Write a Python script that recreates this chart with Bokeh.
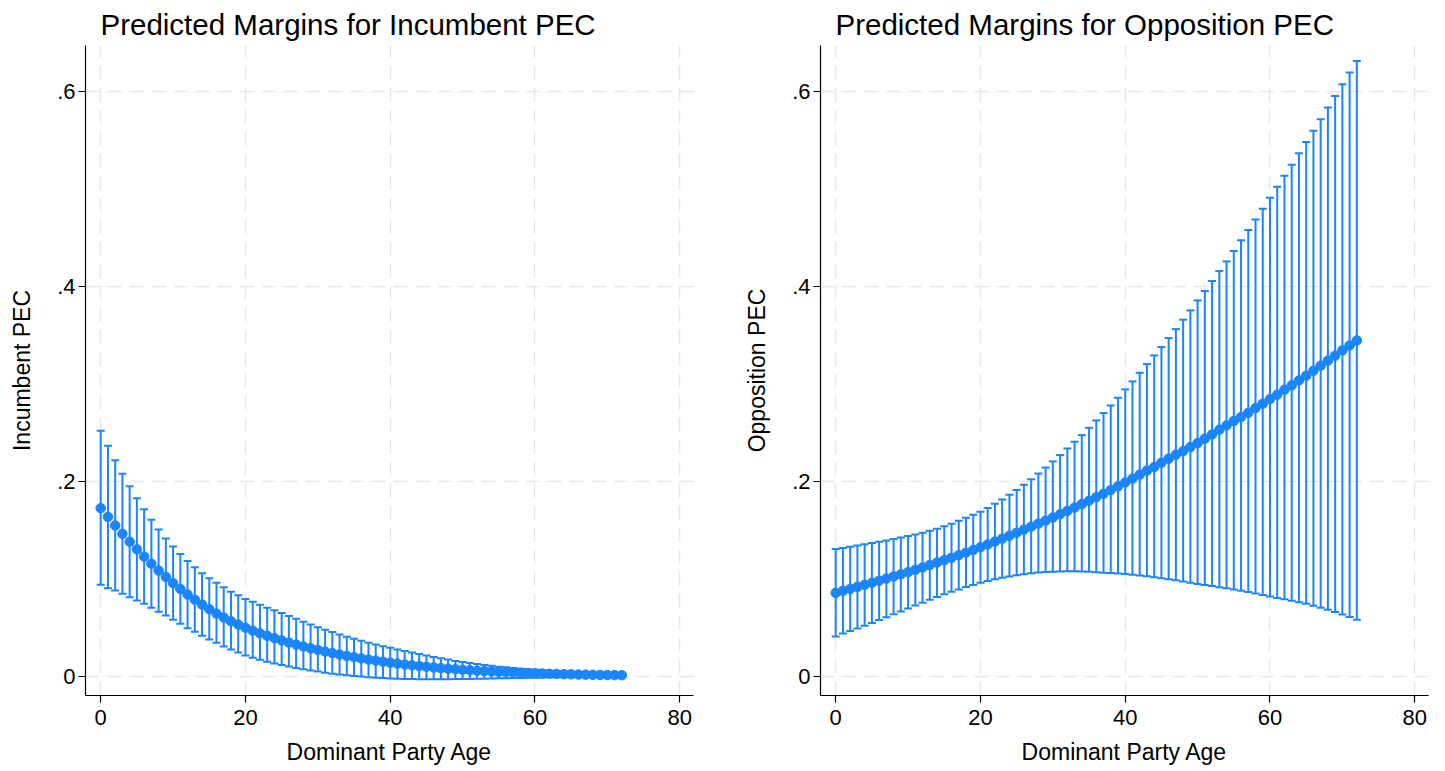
from bokeh.plotting import figure
from bokeh.models import ColumnDataSource, FixedTicker
from bokeh.layouts import row
from bokeh.embed import file_html
from bokeh.resources import INLINE

# ---------------- data ----------------
age = [0, 1, 2, 3, 4, 5, 6, 7, 8, 9, 10, 11, 12, 13, 14, 15, 16, 17, 18, 19,
       20, 21, 22, 23, 24, 25, 26, 27, 28, 29, 30, 31, 32, 33, 34, 35, 36, 37, 38, 39,
       40, 41, 42, 43, 44, 45, 46, 47, 48, 49, 50, 51, 52, 53, 54, 55, 56, 57, 58, 59,
       60, 61, 62, 63, 64, 65, 66, 67, 68, 69, 70, 71, 72]

inc_margin = [0.1725, 0.1636, 0.1548, 0.1463, 0.1382, 0.1304, 0.1229, 0.1156, 0.1086, 0.1021,
              0.0957, 0.0897, 0.0840, 0.0787, 0.0737, 0.0690, 0.0645, 0.0604, 0.0566, 0.0532,
              0.0500, 0.0470, 0.0443, 0.0417, 0.0393, 0.0370, 0.0348, 0.0327, 0.0308, 0.0289,
              0.0272, 0.0255, 0.0240, 0.0225, 0.0211, 0.0198, 0.0185, 0.0173, 0.0162, 0.0151,
              0.0141, 0.0132, 0.0123, 0.0115, 0.0107, 0.0100, 0.0093, 0.0086, 0.0080, 0.0074,
              0.0069, 0.0064, 0.0059, 0.0055, 0.0051, 0.0047, 0.0044, 0.0041, 0.0038, 0.0035,
              0.0032, 0.0030, 0.0028, 0.0026, 0.0024, 0.0022, 0.0020, 0.0019, 0.0017, 0.0016,
              0.0015, 0.0014, 0.0013]
inc_lower = [0.0940, 0.0906, 0.0882, 0.0848, 0.0813, 0.0780, 0.0745, 0.0704, 0.0663, 0.0626,
             0.0581, 0.0540, 0.0495, 0.0458, 0.0417, 0.0379, 0.0345, 0.0308, 0.0277, 0.0246,
             0.0214, 0.0192, 0.0171, 0.0152, 0.0134, 0.0118, 0.0102, 0.0088, 0.0074, 0.0062,
             0.0050, 0.0039, 0.0029, 0.0020, 0.0012, 0.0005, -0.0001, -0.0007, -0.0012, -0.0016,
             -0.0020, -0.0023, -0.0025, -0.0027, -0.0028, -0.0029, -0.0029, -0.0029, -0.0028, -0.0027,
             -0.0026, -0.0025, -0.0024, -0.0022, -0.0021, -0.0019, -0.0018, -0.0016, -0.0015, -0.0013,
             -0.0012, -0.0011, -0.0009, -0.0008, -0.0007, -0.0006, -0.0005, -0.0004, -0.0003, -0.0002,
             -0.0001, -0.0001, 0.0000]
inc_upper = [0.2520, 0.2365, 0.2218, 0.2080, 0.1950, 0.1828, 0.1714, 0.1607, 0.1508, 0.1416,
             0.1332, 0.1255, 0.1184, 0.1119, 0.1059, 0.1008, 0.0960, 0.0914, 0.0870, 0.0832,
             0.0795, 0.0766, 0.0736, 0.0706, 0.0678, 0.0650, 0.0620, 0.0591, 0.0562, 0.0534,
             0.0506, 0.0480, 0.0455, 0.0431, 0.0408, 0.0386, 0.0366, 0.0347, 0.0328, 0.0311,
             0.0294, 0.0277, 0.0261, 0.0245, 0.0230, 0.0215, 0.0200, 0.0186, 0.0173, 0.0160,
             0.0148, 0.0137, 0.0127, 0.0118, 0.0109, 0.0101, 0.0094, 0.0087, 0.0080, 0.0074,
             0.0069, 0.0064, 0.0059, 0.0055, 0.0051, 0.0047, 0.0044, 0.0040, 0.0037, 0.0035,
             0.0032, 0.0030, 0.0028]

opp_margin = [0.0858, 0.0878, 0.0898, 0.0919, 0.0940, 0.0961, 0.0982, 0.1004, 0.1026, 0.1048,
              0.1070, 0.1094, 0.1118, 0.1143, 0.1168, 0.1193, 0.1218, 0.1244, 0.1270, 0.1297,
              0.1325, 0.1354, 0.1383, 0.1413, 0.1443, 0.1474, 0.1505, 0.1536, 0.1567, 0.1598,
              0.1630, 0.1664, 0.1698, 0.1732, 0.1767, 0.1802, 0.1838, 0.1874, 0.1912, 0.1950,
              0.1989, 0.2029, 0.2070, 0.2111, 0.2147, 0.2192, 0.2233, 0.2274, 0.2311, 0.2352,
              0.2393, 0.2438, 0.2482, 0.2530, 0.2574, 0.2619, 0.2660, 0.2704, 0.2752, 0.2797,
              0.2844, 0.2889, 0.2940, 0.2985, 0.3036, 0.3084, 0.3135, 0.3187, 0.3238, 0.3289,
              0.3344, 0.3395, 0.3446]
opp_lower = [0.0410, 0.0440, 0.0466, 0.0492, 0.0520, 0.0549, 0.0578, 0.0607, 0.0637, 0.0667,
             0.0697, 0.0727, 0.0757, 0.0786, 0.0814, 0.0842, 0.0868, 0.0893, 0.0917, 0.0939,
             0.0960, 0.0979, 0.0996, 0.1012, 0.1026, 0.1038, 0.1049, 0.1058, 0.1065, 0.1071,
             0.1075, 0.1077, 0.1078, 0.1078, 0.1076, 0.1073, 0.1069, 0.1064, 0.1060, 0.1056,
             0.1052, 0.1044, 0.1036, 0.1027, 0.1018, 0.1008, 0.0998, 0.0987, 0.0975, 0.0962,
             0.0949, 0.0938, 0.0927, 0.0915, 0.0904, 0.0892, 0.0880, 0.0867, 0.0852, 0.0836,
             0.0820, 0.0806, 0.0792, 0.0777, 0.0761, 0.0745, 0.0726, 0.0706, 0.0684, 0.0661,
             0.0636, 0.0610, 0.0582]
opp_upper = [0.1306, 0.1318, 0.1330, 0.1342, 0.1355, 0.1368, 0.1381, 0.1395, 0.1409, 0.1424,
             0.1440, 0.1457, 0.1475, 0.1494, 0.1515, 0.1540, 0.1566, 0.1596, 0.1628, 0.1658,
             0.1690, 0.1728, 0.1770, 0.1815, 0.1863, 0.1913, 0.1966, 0.2022, 0.2081, 0.2142,
             0.2205, 0.2270, 0.2338, 0.2407, 0.2475, 0.2550, 0.2626, 0.2701, 0.2779, 0.2858,
             0.2944, 0.3026, 0.3114, 0.3203, 0.3292, 0.3378, 0.3470, 0.3562, 0.3658, 0.3754,
             0.3856, 0.3952, 0.4055, 0.4157, 0.4256, 0.4362, 0.4472, 0.4578, 0.4687, 0.4797,
             0.4910, 0.5022, 0.5135, 0.5248, 0.5364, 0.5480, 0.5597, 0.5713, 0.5833, 0.5952,
             0.6072, 0.6192, 0.6311]

x_ticks = [0, 20, 40, 60, 80]
y_ticks = [0, 0.2, 0.4, 0.6]
y_tick_labels = ["0", ".2", ".4", ".6"]

titles = ["Predicted Margins for Incumbent PEC", "Predicted Margins for Opposition PEC"]
y_titles = ["Incumbent PEC", "Opposition PEC"]
x_title = "Dominant Party Age"

# ---------------- style ----------------
BLUE = "#1a85ff"
FONT = "Liberation Sans"
GRID = "#e8e8e8"


def make_panel(title, ytitle, pt, lo, hi, width, border_left, border_right):
    src = ColumnDataSource(dict(x=age, pt=pt, lo=lo, hi=hi))
    p = figure(width=width, height=768, output_backend="svg", toolbar_location=None,
               x_range=(-2.1, 81.9), y_range=(-0.0195, 0.647),
               min_border_left=border_left, min_border_right=border_right,
               min_border_top=45, min_border_bottom=73,
               title=title)
    p.outline_line_color = None
    p.background_fill_color = "white"
    p.border_fill_color = "white"

    p.title.text_font = FONT
    p.title.text_font_size = "29.5px"
    p.title.text_font_style = "normal"
    p.title.text_color = "black"
    p.title.align = "left"
    p.title.offset = 15
    p.title.standoff = 10

    p.xaxis.ticker = FixedTicker(ticks=x_ticks)
    p.yaxis.ticker = FixedTicker(ticks=y_ticks)
    p.yaxis.major_label_overrides = {t: l for t, l in zip(y_ticks, y_tick_labels)}
    p.yaxis.major_label_orientation = "horizontal"

    for ax in (p.xaxis, p.yaxis):
        ax.axis_line_color = "black"
        ax.axis_line_width = 1.2
        ax.major_tick_line_color = "black"
        ax.major_tick_line_width = 1.2
        ax.major_tick_out = 7
        ax.major_tick_in = 0
        ax.minor_tick_line_color = None
        ax.major_label_text_font = FONT
        ax.major_label_text_font_size = "22px"
        ax.major_label_text_color = "black"
        ax.axis_label_text_font = FONT
        ax.axis_label_text_font_size = "23px"
        ax.axis_label_text_font_style = "normal"
        ax.axis_label_text_color = "black"

    p.xaxis.axis_label = x_title
    p.yaxis.axis_label = ytitle
    p.xaxis.major_label_standoff = 7
    p.xaxis.axis_label_standoff = 11
    p.yaxis.major_label_standoff = 3
    p.yaxis.axis_label_standoff = 19

    for g in (p.xgrid, p.ygrid):
        g.grid_line_color = GRID
        g.grid_line_width = 1.6
        g.grid_line_dash = "14 8"

    p.segment(x0="x", y0="lo", x1="x", y1="hi", source=src,
              line_color=BLUE, line_width=2)
    p.scatter(x="x", y="hi", source=src, marker="dash", size=8,
              line_color=BLUE, line_width=2)
    p.scatter(x="x", y="lo", source=src, marker="dash", size=8,
              line_color=BLUE, line_width=2)
    p.scatter(x="x", y="pt", source=src, marker="circle", size=9.5,
              fill_color=BLUE, line_color=BLUE)
    return p


p1 = make_panel(titles[0], y_titles[0], inc_margin, inc_lower, inc_upper, 720, 85, 27)
p2 = make_panel(titles[1], y_titles[1], opp_margin, opp_lower, opp_upper, 722, 100, 14)

layout = row(p1, p2)
open("out.html", "w").write(file_html(layout, INLINE))
